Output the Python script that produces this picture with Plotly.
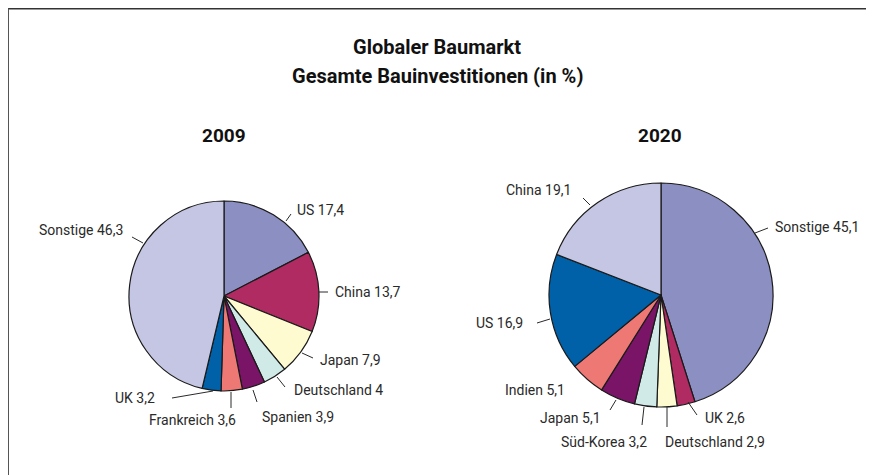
import plotly.graph_objects as go

# The page body has an 8px margin, so the figure is sized to the visible area
# and all reference pixel positions are shifted by that offset.
OFF = 8
W, H = 874 - OFF, 475 - OFF

# ---- data ----
labels_2009 = ["US", "China", "Japan", "Deutschland", "Spanien", "Frankreich", "UK", "Sonstige"]
values_2009 = [17.4, 13.7, 7.9, 4.0, 3.9, 3.6, 3.2, 46.3]
labels_2020 = ["Sonstige", "UK", "Deutschland", "Süd-Korea", "Japan", "Indien", "US", "China"]
values_2020 = [45.1, 2.6, 2.9, 3.2, 5.1, 5.1, 16.9, 19.1]
years = ["2009", "2020"]
title_lines = ["Globaler Baumarkt", "Gesamte Bauinvestitionen (in %)"]

colors = ["#8b8fc2", "#b02b62", "#fffbd0", "#d0eae8", "#7a1466", "#ee7873", "#0060a8", "#c5c6e3"]

FONT = "Roboto, 'Liberation Sans', sans-serif"


def fmt(v):
    return f"{v:g}".replace(".", ",")


def px(x, y):
    return (x - OFF) / W, 1 - (y - OFF) / H


def domain(cx, cy, r):
    x0, y1 = px(cx - r, cy - r)
    x1, y0 = px(cx + r, cy + r)
    return dict(x=[x0, x1], y=[y0, y1])


fig = go.Figure()
fig.add_trace(go.Pie(labels=labels_2009, values=values_2009, sort=False, direction="clockwise",
                     rotation=0, textinfo="none", hoverinfo="label+value",
                     marker=dict(colors=colors, line=dict(color="#1a1a1a", width=1.2)),
                     domain=domain(224, 296, 95), showlegend=False))
fig.add_trace(go.Pie(labels=labels_2020, values=values_2020, sort=False, direction="clockwise",
                     rotation=0, textinfo="none", hoverinfo="label+value",
                     marker=dict(colors=colors, line=dict(color="#1a1a1a", width=1.2)),
                     domain=domain(661, 295, 112), showlegend=False))

# label placement (text anchor point, anchor side, leader line start/end in px)
place_2009 = [
    ((295, 210), "left", (286, 221), (291, 214)),
    ((333, 292), "left", (318, 292), (328, 292)),
    ((318, 360), "left", (302, 353), (313, 358)),
    ((292, 390), "left", (277, 377), (285, 387)),
    ((260, 417), "left", (253, 390), (257, 402)),
    ((192, 420), "center", (231, 392), (231, 408)),
    ((157, 398), "right", (213, 391), (172, 398)),
    ((125, 230), "right", (143, 243), (132, 237)),
]
place_2020 = [
    ((773, 227), "left", (755, 233), (768, 228)),
    ((703, 418), "left", (688, 402), (697, 415)),
    ((663, 442), "left", (667, 407), (667, 427)),
    ((649, 442), "right", (644, 407), (642, 425)),
    ((603, 418), "right", (616, 400), (610, 410)),
    ((567, 390), "right", None, None),
    ((525, 323), "right", (550, 319), (537, 323)),
    ((573, 190), "right", (590, 205), (583, 198)),
]

annotations = []
shapes = []
for labs, vals, places in [(labels_2009, values_2009, place_2009), (labels_2020, values_2020, place_2020)]:
    for lab, val, (tp, anc, l0, l1) in zip(labs, vals, places):
        x, y = px(*tp)
        annotations.append(dict(x=x, y=y, xref="paper", yref="paper", text=f"{lab} {fmt(val)}",
                                showarrow=False, xanchor=anc, yanchor="middle",
                                font=dict(family=FONT, size=14, color="#2a2a2a")))
        if l0 is not None:
            x0, y0 = px(*l0)
            x1, y1 = px(*l1)
            shapes.append(dict(type="line", xref="paper", yref="paper", x0=x0, y0=y0, x1=x1, y1=y1,
                               line=dict(color="#2a2a2a", width=1)))

for yr, cx in zip(years, [224, 660]):
    x, y = px(cx, 135)
    annotations.append(dict(x=x, y=y, xref="paper", yref="paper", text=f"<b>{yr}</b>", showarrow=False,
                            xanchor="center", yanchor="middle",
                            font=dict(family=FONT, size=19, color="#111")))

for line, ty in zip(title_lines, [47, 76]):
    x, y = px(437, ty)
    annotations.append(dict(x=x, y=y, xref="paper", yref="paper", text=f"<b>{line}</b>", showarrow=False,
                            xanchor="center", yanchor="middle",
                            font=dict(family=FONT, size=20, color="#111")))

# frame (top and left edges)
fx0, fy0 = px(8, 8.5)
shapes.append(dict(type="line", xref="paper", yref="paper", x0=fx0, y0=fy0, x1=1, y1=fy0,
                   line=dict(color="#333", width=2)))
shapes.append(dict(type="line", xref="paper", yref="paper", x0=fx0, y0=fy0, x1=fx0, y1=0,
                   line=dict(color="#555", width=2)))

fig.update_layout(width=W, height=H, margin=dict(l=0, r=0, t=0, b=0),
                  paper_bgcolor="white", plot_bgcolor="white",
                  annotations=annotations, shapes=shapes, font=dict(family=FONT))
fig.write_html("out.html")
